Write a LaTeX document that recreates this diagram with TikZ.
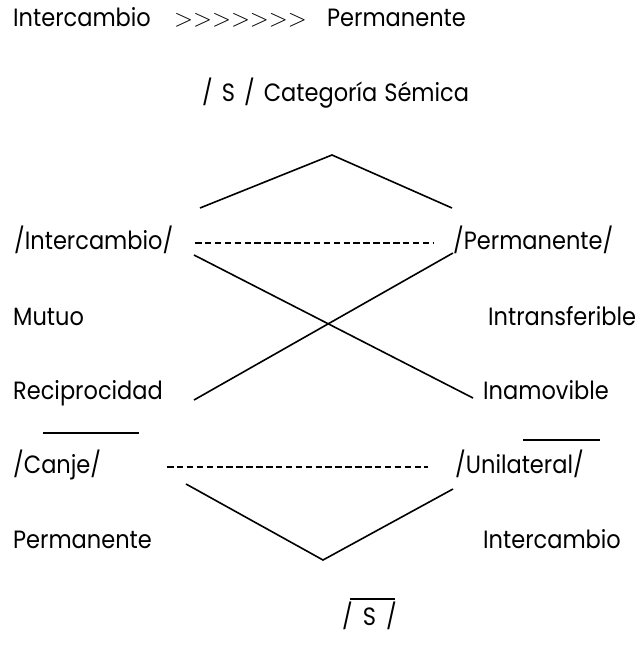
\documentclass[tikz,border=0pt]{standalone}
\usepackage{fontspec}
\setmainfont{Poppins}[FakeStretch=0.9]
\begin{document}
\begin{tikzpicture}[x=1pt,y=-1pt,
  lbl/.style={anchor=base west,inner sep=0pt,font=\fontsize{25}{29}\selectfont},
  conn/.style={line width=1.6pt},
  dsh/.style={line width=1.7pt,dash pattern=on 6.5pt off 3.4pt},
  bar/.style={line width=1.8pt}]
\useasboundingbox (0,0) rectangle (641,645);
% top line
\node[lbl] (t1) at (13,27) {Intercambio};
\node[lbl,font=\fontsize{24}{28}\selectfont] (t2) at (174,27) {$>>>>>>>$};
\node[lbl] (t3) at (327,27) {Permanente};
\node[lbl] (cat) at (202,101) {/\hspace{9pt}S\hspace{9pt}/\hspace{9pt}Categoría\hspace{7pt}Sémica};
% rows
\node[lbl] (int) at (14,249) {/Intercambio/};
\node[lbl] (per) at (453,249) {/Permanente/};
\node[lbl] (mut) at (13,325) {Mutuo};
\node[lbl] (itr) at (488,325) {Intransferible};
\node[lbl] (rec) at (13,399) {Reciprocidad};
\node[lbl] (ina) at (483,399) {Inamovible};
\node[lbl] (can) at (13,473) {/Canje/};
\node[lbl] (uni) at (455,473) {/Unilateral/};
\node[lbl] (per2) at (13,548) {Permanente};
\node[lbl] (int2) at (483,548) {Intercambio};
\node[lbl] (s) at (342,625) {/\hspace{10pt}S\hspace{10pt}/};
% coordinates
\coordinate (vl) at (200,208);
\coordinate (va) at (332,155);
\coordinate (vr) at (452,208);
\coordinate (d1a) at (195,243);
\coordinate (d1b) at (433,243);
\coordinate (xa1) at (194,255);
\coordinate (xa2) at (473,398);
\coordinate (xb1) at (453,253);
\coordinate (xb2) at (194,400);
\coordinate (d2a) at (167,467);
\coordinate (d2b) at (428,467);
\coordinate (bl) at (186,484);
\coordinate (ba) at (323,560);
\coordinate (br) at (453,489);
\coordinate (o1a) at (43,433);
\coordinate (o1b) at (139,433);
\coordinate (o2a) at (523,440);
\coordinate (o2b) at (600,440);
\coordinate (o3a) at (350,599);
\coordinate (o3b) at (395,599);
% connectors
\draw[conn] (vl) -- (va) -- (vr);
\draw[dsh] (d1a) -- (d1b);
\draw[conn] (xa1) -- (xa2);
\draw[conn] (xb1) -- (xb2);
\draw[dsh] (d2a) -- (d2b);
\draw[conn] (bl) -- (ba) -- (br);
\draw[bar] (o1a) -- (o1b);
\draw[bar] (o2a) -- (o2b);
\draw[bar] (o3a) -- (o3b);
\end{tikzpicture}
\end{document}
